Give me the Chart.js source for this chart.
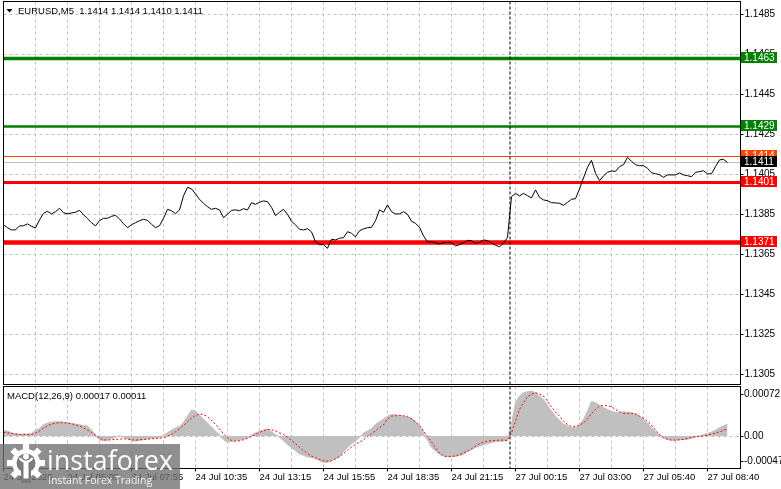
<!DOCTYPE html>
<html>
<head>
<meta charset="utf-8">
<script src="https://cdn.jsdelivr.net/npm/chart.js@4.4.0/dist/chart.umd.min.js"></script>
<style>
  html, body { margin: 0; padding: 0; background: #fff; overflow: hidden; }
  #wrap { position: relative; width: 781px; height: 489px; }
  #boxMain { position: absolute; left: 0; top: 0; width: 781px; height: 385px; }
  #boxMacd { position: absolute; left: 0; top: 385px; width: 781px; height: 104px; }
  #wm { position: absolute; left: 0; top: 444px; width: 180px; height: 45px; background: rgba(112,112,112,0.78); }
  #wm .big { position: absolute; left: 47px; top: 3px; font: 400 26.5px "Open Sans", sans-serif; line-height: 1; color: #fff; letter-spacing: 0.2px; }
  #wm .small { position: absolute; left: 48px; top: 31px; font: 400 10.5px "Open Sans", sans-serif; line-height: 1; color: rgba(255,255,255,0.92); }
</style>
</head>
<body>
<div id="wrap">
  <div id="boxMain"><canvas id="main"></canvas></div>
  <div id="boxMacd"><canvas id="macd"></canvas></div>
  <div id="wm">
    <svg width="40" height="40" viewBox="0 0 40 40" style="position:absolute;left:6px;top:-1px">
      <g fill="#fff" transform="translate(20,20)">
        <rect x="-3" y="-19" width="6" height="8"/>
        <rect x="-3" y="-19" width="6" height="8" transform="rotate(45)"/>
        <rect x="-3" y="-19" width="6" height="8" transform="rotate(90)"/>
        <rect x="-3" y="-19" width="6" height="8" transform="rotate(135)"/>
        <rect x="-3" y="-19" width="6" height="8" transform="rotate(225)"/>
        <rect x="-3" y="-19" width="6" height="8" transform="rotate(270)"/>
        <rect x="-3" y="-19" width="6" height="8" transform="rotate(315)"/>
        <circle r="14"/>
      </g>
      <circle cx="20" cy="20" r="9.5" fill="#7a7a7a"/>
      <rect x="15" y="28" width="10" height="12" fill="#7a7a7a"/>
      <circle cx="20" cy="13.5" r="3" fill="#fff"/>
      <path d="M12.5 15.5 Q20 25 27.5 15.5 L25.5 14.5 Q20 21 14.5 14.5 Z" fill="#fff"/>
      <rect x="17.5" y="19.5" width="5" height="16" fill="#fff"/>
    </svg>
    <div class="big">instaforex</div>
    <div class="small">Instant Forex Trading</div>
  </div>
</div>
<script>
// ---- dados (M5, uma amostra a cada 2 barras) ----
const symbol = 'EURUSD,M5';
const lastOHLC = [1.1414, 1.1414, 1.1410, 1.1411];

const closes = [
  1.13798, 1.13784, 1.13773, 1.13773, 1.13793, 1.13794, 1.13803, 1.13791, 1.13783, 1.13823,
  1.13856, 1.13866, 1.13853, 1.13864, 1.13881, 1.13859, 1.13853, 1.13858, 1.13861, 1.13871,
  1.13849, 1.13829, 1.13809, 1.13793, 1.13819, 1.13831, 1.13831, 1.13841, 1.13846, 1.13828,
  1.13804, 1.13784, 1.13799, 1.13809, 1.13819, 1.13826, 1.13821, 1.13801, 1.13784, 1.13794,
  1.13831, 1.13876, 1.13869, 1.13854, 1.13873, 1.13943, 1.13986, 1.13978, 1.13953, 1.13926,
  1.13906, 1.13889, 1.13876, 1.13881, 1.13873, 1.13834, 1.13851, 1.13871, 1.13873, 1.13869,
  1.13879, 1.13873, 1.13909, 1.13901, 1.13911,
  1.13918, 1.13914, 1.13886, 1.13844, 1.13861, 1.13876, 1.13851, 1.13816, 1.13798, 1.13776,
  1.13773, 1.13779, 1.13763, 1.13714, 1.13699, 1.13699, 1.13681, 1.13726, 1.13723, 1.13731,
  1.13734, 1.13764, 1.13756, 1.13739, 1.13769, 1.13778, 1.13784, 1.13786, 1.13819, 1.13873,
  1.13861, 1.13898, 1.13864, 1.13853, 1.13853, 1.13864, 1.13851, 1.13816, 1.13806, 1.13786,
  1.13743, 1.13713, 1.13713, 1.13709, 1.13703, 1.13709, 1.13711, 1.13709, 1.13693, 1.13699,
  1.13709, 1.13721, 1.13719, 1.13706, 1.13711, 1.13723, 1.13719, 1.13708, 1.13696, 1.13689,
  1.13706, 1.13736, 1.13939, 1.13956, 1.13943,
  1.13956, 1.13944, 1.13933, 1.13973, 1.13936, 1.13923, 1.13919, 1.13909, 1.13908, 1.13906,
  1.13896, 1.13911, 1.13926, 1.13929, 1.13978, 1.14033, 1.14086, 1.14121, 1.14056, 1.14019,
  1.14043, 1.14061, 1.14068, 1.14066, 1.14089, 1.14099, 1.14136, 1.14116, 1.14099, 1.14094,
  1.14094, 1.14081, 1.14059, 1.14054, 1.14049, 1.14036, 1.14048, 1.14048, 1.14048, 1.14058,
  1.14048, 1.14044, 1.14039, 1.14061, 1.14064, 1.14069, 1.14053, 1.14054, 1.14089, 1.14123,
  1.14126, 1.14110
];

const macdHist = [
  0.000073, 0.000073, 0.000048, 0.000034, 0.000029, 0.000029, 0.000029, 0.000034, 0.000087, 0.000111,
  0.000165, 0.000189, 0.000203, 0.000208, 0.000208, 0.000203, 0.000194, 0.000184, 0.000174, 0.000165,
  0.000155, 0.000145, 0.000087, 0.000019, -0.000053, -0.000068, -0.000058, -0.000039, -0.000015, 0.000005,
  -0.000015, -0.000039, -0.000063, -0.000073, -0.000063, -0.000048, -0.000039, -0.000029, -0.000024, -0.000024,
  0.000010, 0.000048, 0.000087, 0.000116, 0.000140, 0.000203, 0.000290, 0.000378, 0.000363, 0.000305,
  0.000247, 0.000189, 0.000131, 0.000073, 0.000015, -0.000053, -0.000087, -0.000077, -0.000068, -0.000058,
  -0.000044, -0.000024, 0.000015, 0.000048, 0.000068, 0.000087, 0.000106, 0.000063, 0.000019, -0.000015,
  -0.000068, -0.000126, -0.000169, -0.000213, -0.000257, -0.000281, -0.000300, -0.000310, -0.000324, -0.000358,
  -0.000382, -0.000378, -0.000358, -0.000329, -0.000300, -0.000223, -0.000165, -0.000111, -0.000068, -0.000019,
  0.000044, 0.000073, 0.000111, 0.000169, 0.000213, 0.000247, 0.000290,
  0.000315, 0.000310, 0.000300, 0.000290, 0.000276, 0.000261, 0.000213, 0.000145, 0.000058, -0.000058,
  -0.000160, -0.000218, -0.000261, -0.000290, -0.000295, -0.000300, -0.000295, -0.000281, -0.000266, -0.000223,
  -0.000194, -0.000165, -0.000145, -0.000126, -0.000111, -0.000092, -0.000082, -0.000077, -0.000073, -0.000063,
  0.000169, 0.000484, 0.000581, 0.000629, 0.000644, 0.000653, 0.000629, 0.000581, 0.000532, 0.000445,
  0.000363, 0.000290, 0.000232, 0.000174, 0.000145, 0.000121, 0.000121, 0.000169, 0.000242, 0.000363,
  0.000503, 0.000484, 0.000450, 0.000411, 0.000387, 0.000358, 0.000344, 0.000339, 0.000353, 0.000348,
  0.000339, 0.000324, 0.000290, 0.000242, 0.000184, 0.000121, 0.000063, 0.000015, -0.000024, -0.000048,
  -0.000058, -0.000058, -0.000053, -0.000048, -0.000044, -0.000034, -0.000015, 0, 0.000019, 0.000039,
  0.000058, 0.000087, 0.000121, 0.000150, 0.000169
];

const macdSignal = [
  0.000058, 0.000048, 0.000039, 0.000029, 0.000024, 0.000024, 0.000024, 0.000024, 0.000044, 0.000073,
  0.000116, 0.000150, 0.000174, 0.000189, 0.000194, 0.000194, 0.000189, 0.000179, 0.000165, 0.000145,
  0.000121, 0.000087, 0.000053, 0.000015, -0.000029, -0.000053, -0.000058, -0.000053, -0.000048, -0.000044,
  -0.000039, -0.000044, -0.000053, -0.000058, -0.000053, -0.000048, -0.000044, -0.000039, -0.000034, -0.000029,
  -0.000024, -0.000005, 0.000024, 0.000063, 0.000106, 0.000155, 0.000208, 0.000261, 0.000300, 0.000319,
  0.000315, 0.000281, 0.000232, 0.000169, 0.000106, 0.000034, -0.000024, -0.000063, -0.000073, -0.000068,
  -0.000053, -0.000034, -0.000005, 0.000024, 0.000053, 0.000077, 0.000097, 0.000092, 0.000077, 0.000048,
  0.000024, -0.000015, -0.000063, -0.000111, -0.000160, -0.000213, -0.000252, -0.000290, -0.000315, -0.000339,
  -0.000358, -0.000363, -0.000358, -0.000329, -0.000295, -0.000252, -0.000203, -0.000160, -0.000121, -0.000087,
  -0.000053, -0.000005, 0.000034, 0.000077, 0.000121, 0.000160, 0.000250,
  0.000290, 0.000295, 0.000300, 0.000295, 0.000281, 0.000252, 0.000203, 0.000155, 0.000073, 0,
  -0.000087, -0.000169, -0.000252, -0.000286, -0.000300, -0.000295, -0.000286, -0.000271, -0.000242, -0.000218,
  -0.000184, -0.000145, -0.000111, -0.000087, -0.000073, -0.000068, -0.000063, -0.000058, -0.000058, -0.000063,
  0.000048, 0.000218, 0.000387, 0.000484, 0.000571, 0.000610, 0.000629, 0.000610, 0.000581, 0.000503,
  0.000426, 0.000348, 0.000290, 0.000218, 0.000169, 0.000140, 0.000136, 0.000160, 0.000189, 0.000252,
  0.000324, 0.000387, 0.000436, 0.000445, 0.000440, 0.000426, 0.000387, 0.000353, 0.000329, 0.000329,
  0.000329, 0.000319, 0.000290, 0.000257, 0.000213, 0.000160, 0.000087, 0.000024, -0.000024, -0.000048,
  -0.000058, -0.000058, -0.000053, -0.000048, -0.000034, -0.000019, -0.000005, 0, 0, 0.000015,
  0.000029, 0.000044, 0.000063, 0.000082, 0.000110
];

const macdParams = [12, 26, 9];
const macdLast = [0.00017, 0.00011];
const macdMarks = [0.00072, 0.00, -0.00047];

const priceTicks = [1.1305, 1.1325, 1.1345, 1.1365, 1.1385, 1.1405, 1.1425, 1.1445, 1.1465, 1.1485];
const timeLabels = [
  '24 Jul 2026', '24 Jul 05:05', '24 Jul 07:55', '24 Jul 10:35', '24 Jul 13:15', '24 Jul 15:55',
  '24 Jul 18:35', '24 Jul 21:15', '27 Jul 00:15', '27 Jul 03:00', '27 Jul 05:40', '27 Jul 08:40'
];

// níveis horizontais (suporte/resistência) + ask/bid
const levelPrices = [1.1463, 1.1429, 1.1401, 1.1371];
const askPrice = 1.1414;
const bidPrice = 1.1411;

// ---- eixo do tempo em barras ----
const BAR_STEP = 2;
const X_MAX = 368.5;
const GRID_EVERY = 16;
const SEPARATOR_BAR = 253;
const PRICE_MIN = 1.1300, PRICE_MAX = 1.14915;

// ---- estilos ----
const levelStyles = [
  { color: '#008000', width: 3.5 },
  { color: '#008000', width: 2.5 },
  { color: '#ff0000', width: 3 },
  { color: '#ff0000', width: 4.5 }
];
const GRID = '#c0c0c0';
const FONT = '"Liberation Sans", Arial, sans-serif';

Chart.defaults.font.family = FONT;
Chart.defaults.color = '#000';

// uma linha de grade a cada 16 barras, rótulo em linhas alternadas
const gridBars = [];
for (let j = 0; j < (timeLabels.length - 1) * 2 + 1; j++) gridBars.push(j * GRID_EVERY);

const toPts = (arr) => arr.map((v, k) => ({ x: k * BAR_STEP, y: v }));
const hLine = (v) => [{ x: 0, y: v }, { x: X_MAX, y: v }];

const xScale = (withLabels) => ({
  type: 'linear', min: 0, max: X_MAX, offset: false,
  afterBuildTicks: (s) => { s.ticks = gridBars.map(v => ({ value: v })); },
  afterFit: (s) => { s.height = withLabels ? 20.5 : 0; s.paddingLeft = 0; s.paddingRight = 0; },
  ticks: {
    display: withLabels, autoSkip: false, maxRotation: 0, minRotation: 0, align: 'start', padding: 0.5,
    font: { size: 9.5 }, color: '#000',
    callback: (v, i) => (i % 2 === 0 ? timeLabels[i / 2] : '')
  },
  grid: {
    color: (c) => (c.index === 0 ? 'rgba(0,0,0,0)' : GRID),
    lineWidth: 1,
    drawTicks: withLabels, tickLength: 3, tickBorderDash: [],
    tickColor: (c) => (c.index % 2 === 0 ? '#000' : 'rgba(0,0,0,0)')
  },
  border: { display: false, dash: [3, 3] }
});

// moldura + separador de dia
const framePlugin = {
  id: 'frame',
  afterDraw(chart) {
    const { ctx, chartArea: a } = chart;
    ctx.save();
    ctx.strokeStyle = '#000';
    ctx.lineWidth = 1;
    ctx.setLineDash([3, 2]);
    const sx = chart.scales.x.getPixelForValue(SEPARATOR_BAR) + 0.5;
    ctx.beginPath(); ctx.moveTo(sx, a.top); ctx.lineTo(sx, a.bottom); ctx.stroke();
    ctx.setLineDash([]);
    ctx.strokeRect(a.left, a.top, a.right - a.left, a.bottom - a.top);
    ctx.restore();
  }
};

// etiquetas de preço no eixo + título
const mainLabels = {
  id: 'mainLabels',
  afterDraw(chart) {
    const { ctx } = chart;
    const y = chart.scales.y;
    const boxes = levelPrices.map((v, i) => ({ v, fill: levelStyles[i].color }))
      .concat([{ v: askPrice, fill: '#ff4500' }, { v: bidPrice, fill: '#000' }]);
    ctx.save();
    ctx.font = '10px ' + FONT;
    ctx.textBaseline = 'middle';
    ctx.textAlign = 'left';
    boxes.forEach(b => {
      const py = y.getPixelForValue(b.v);
      ctx.fillStyle = b.fill;
      ctx.fillRect(741, py - 6.5, 36, 11);
      ctx.fillStyle = '#fff';
      ctx.fillText(b.v.toFixed(4), 744, py - 0.5);
    });
    // título
    ctx.fillStyle = '#000';
    ctx.beginPath(); ctx.moveTo(6.5, 9); ctx.lineTo(12.5, 9); ctx.lineTo(9.5, 12.5); ctx.closePath(); ctx.fill();
    ctx.font = '9.5px ' + FONT;
    ctx.fillText(symbol + '  ' + lastOHLC.map(v => v.toFixed(4)).join(' '), 18, 11);
    ctx.restore();
  }
};

const macdLabels = {
  id: 'macdLabels',
  afterDraw(chart) {
    const { ctx, chartArea: a } = chart;
    const y = chart.scales.y;
    ctx.save();
    ctx.fillStyle = '#000';
    ctx.strokeStyle = '#000';
    ctx.font = '10px ' + FONT;
    ctx.textBaseline = 'middle';
    macdMarks.forEach(v => {
      const py = Math.min(Math.max(y.getPixelForValue(v), a.top + 7.5), a.bottom - 7.5);
      const txt = v === 0 ? '0.00' : v.toFixed(5);
      ctx.fillText(txt, 744, py);
      ctx.beginPath(); ctx.moveTo(a.right, Math.round(py) + 0.5); ctx.lineTo(a.right + 3, Math.round(py) + 0.5); ctx.stroke();
    });
    ctx.font = '9.5px ' + FONT;
    ctx.fillText('MACD(' + macdParams.join(',') + ') ' + macdLast.map(v => v.toFixed(5)).join(' '), 7, a.top + 9.5);
    ctx.restore();
  }
};

const common = {
  responsive: true,
  maintainAspectRatio: false,
  animation: false,
  devicePixelRatio: 1,
  events: [],
  plugins: { legend: { display: false }, tooltip: { enabled: false } }
};

new Chart(document.getElementById('main'), {
  type: 'line',
  data: {
    datasets: [
      { data: toPts(closes), borderColor: '#000', borderWidth: 1, pointRadius: 0, tension: 0 },
      ...levelPrices.map((v, i) => ({
        data: hLine(v), borderColor: levelStyles[i].color, borderWidth: levelStyles[i].width, pointRadius: 0, clip: 0
      })),
      { data: hLine(askPrice), borderColor: '#ff4500', borderWidth: 1, pointRadius: 0, clip: 0 },
      { data: hLine(bidPrice), borderColor: GRID, borderWidth: 1, pointRadius: 0, clip: 0 }
    ]
  },
  options: {
    ...common,
    layout: { padding: { left: 3.5, top: 1.5, right: 0, bottom: 0.5 } },
    scales: {
      x: xScale(false),
      y: {
        position: 'right', min: PRICE_MIN, max: PRICE_MAX,
        afterBuildTicks: (s) => { s.ticks = priceTicks.map(v => ({ value: v })); },
        afterFit: (s) => { s.width = 40.5; s.paddingTop = 0; s.paddingBottom = 0; },
        ticks: { padding: 1, font: { size: 10 }, color: '#000', callback: (v) => v.toFixed(4) },
        grid: { color: GRID, tickColor: '#000', tickLength: 3, tickBorderDash: [] },
        border: { display: false, dash: [3, 3] }
      }
    }
  },
  plugins: [framePlugin, mainLabels]
});

// histograma como área cheia até o zero (uma coluna por barra no original)
new Chart(document.getElementById('macd'), {
  type: 'line',
  data: {
    datasets: [
      { data: toPts(macdSignal), borderColor: '#ff0000', borderWidth: 1, borderDash: [2, 2], pointRadius: 0, tension: 0 },
      { data: toPts(macdHist), borderColor: '#c0c0c0', borderWidth: 1, backgroundColor: '#c0c0c0', fill: 'origin', pointRadius: 0, tension: 0 }
    ]
  },
  options: {
    ...common,
    layout: { padding: { left: 3.5, top: 1.5, right: 0, bottom: 0 } },
    scales: {
      x: xScale(true),
      y: {
        position: 'right', min: macdMarks[2], max: macdMarks[0],
        afterBuildTicks: (s) => { s.ticks = [{ value: 0 }]; },
        afterFit: (s) => { s.width = 40.5; s.paddingTop = 0; s.paddingBottom = 0; },
        ticks: { display: false },
        grid: { color: GRID, drawTicks: false },
        border: { display: false, dash: [3, 3] }
      }
    }
  },
  plugins: [framePlugin, macdLabels]
});
</script>
</body>
</html>
